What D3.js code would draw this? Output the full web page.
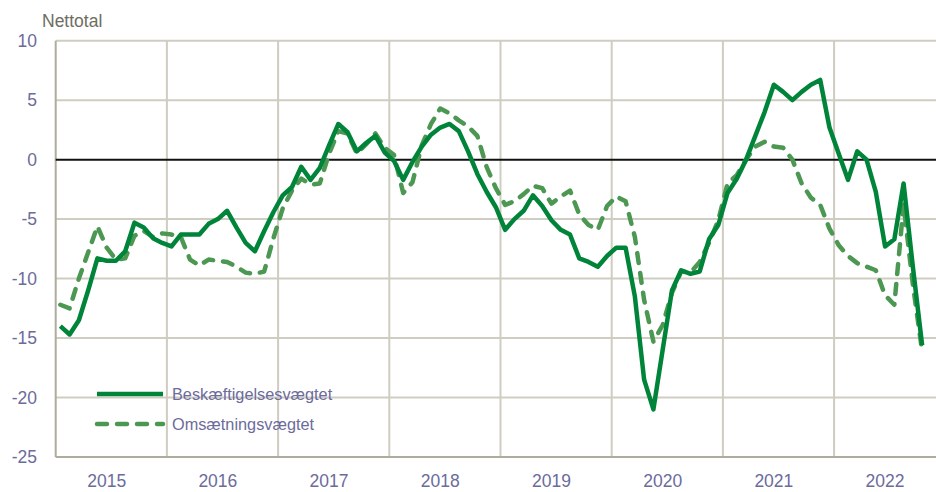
<!DOCTYPE html>
<html>
<head>
<meta charset="utf-8">
<script src="https://cdn.jsdelivr.net/npm/d3@7"></script>
<style>
  body { margin: 0; background: #fff; }
  svg { display: block; }
</style>
</head>
<body>
<script>
// monthly net balances, Jan 2015 .. Oct 2022
const years = ['2015', '2016', '2017', '2018', '2019', '2020', '2021', '2022'];
const yTicks = [10, 5, 0, -5, -10, -15, -20, -25];
const seriesNames = ['Beskæftigelsesvægtet', 'Omsætningsvægtet'];

const beskaeftigelse = [
  -14.0, -14.7, -13.5, -11.0, -8.3, -8.5, -8.5, -7.7, -5.3, -5.7, -6.6, -7.0,
  -7.3, -6.3, -6.3, -6.3, -5.4, -5.0, -4.3, -5.7, -7.0, -7.7, -6.0, -4.4,
  -3.0, -2.3, -0.6, -1.7, -0.7, 1.2, 3.0, 2.3, 0.7, 1.4, 2.0, 0.6,
  -0.1, -1.7, -0.2, 1.1, 2.1, 2.7, 3.0, 2.4, 0.7, -1.2, -2.7, -4.0,
  -5.9, -5.0, -4.3, -3.0, -3.9, -5.1, -5.9, -6.3, -8.3, -8.6, -9.0, -8.1,
  -7.4, -7.4, -11.5, -18.5, -21.0, -16.0, -11.0, -9.3, -9.6, -9.4, -6.7, -5.5,
  -2.8, -1.6, 0.0, 2.0, 4.0, 6.3, 5.7, 5.0, 5.7, 6.3, 6.7, 2.7,
  0.5, -1.7, 0.7, 0.0, -2.7, -7.3, -6.7, -2.0, -9.0, -15.6
];

const omsaetning = [
  -12.2, -12.5, -10.0, -7.8, -5.6, -7.4, -8.4, -8.3, -6.4, -6.0, -6.5, -6.2,
  -6.3, -6.5, -8.4, -8.9, -8.4, -8.5, -8.6, -9.0, -9.5, -9.6, -9.4, -6.6,
  -4.1, -2.6, -1.6, -2.1, -2.0, 0.5, 2.4, 2.2, 0.5, 1.3, 2.2, 1.0,
  0.4, -2.8, -1.9, 1.2, 3.0, 4.3, 3.9, 3.3, 2.8, 2.0, -0.6, -2.4,
  -3.8, -3.5, -2.9, -2.2, -2.4, -3.7, -3.1, -2.6, -4.6, -5.5, -5.9, -3.9,
  -3.1, -3.5, -6.5, -11.8, -15.3, -13.9, -11.2, -9.4, -9.5, -8.6, -7.0, -5.1,
  -2.0, -1.3, 0.0, 1.1, 1.5, 1.1, 1.0, 0.0, -2.0, -3.2, -3.8, -5.8,
  -7.2, -8.1, -8.7, -9.0, -9.3, -11.4, -12.2, -3.8, -10.5, -16.1
];

const W = 936, H = 492;
const FONT = '"Liberation Sans", Arial, sans-serif';
const gridColor = '#cfcdc1';
const axisColor = '#aeac9c';
const labelColor = '#6c6b9c';
const solidColor = '#00843a';
const dashColor = '#4c9853';

const svg = d3.select('body').append('svg')
  .attr('width', W)
  .attr('height', H);

// month index scale, 12 per year
const x = d3.scaleLinear().domain([0, 96]).range([55.7, 945.3]);
const y = d3.scaleLinear().domain([-25, 10]).range([457, 40.7]);

// horizontal grid
svg.append('g').selectAll('line')
  .data(yTicks.filter(d => d !== 0 && d !== -25))
  .join('line')
  .attr('x1', x(0)).attr('x2', W)
  .attr('y1', d => y(d)).attr('y2', d => y(d))
  .attr('stroke', gridColor)
  .attr('stroke-width', 2);

// vertical grid at year boundaries
svg.append('g').selectAll('line')
  .data(d3.range(1, years.length + 1))
  .join('line')
  .attr('x1', d => x(d * 12)).attr('x2', d => x(d * 12))
  .attr('y1', y(10)).attr('y2', y(-25))
  .attr('stroke', gridColor)
  .attr('stroke-width', 2);

// axes frame
svg.append('line')
  .attr('x1', x(0)).attr('x2', x(0))
  .attr('y1', y(10)).attr('y2', y(-25))
  .attr('stroke', axisColor).attr('stroke-width', 2);
svg.append('line')
  .attr('x1', x(0)).attr('x2', W)
  .attr('y1', y(-25)).attr('y2', y(-25))
  .attr('stroke', axisColor).attr('stroke-width', 2);

// zero line
svg.append('line')
  .attr('x1', x(0)).attr('x2', W)
  .attr('y1', y(0)).attr('y2', y(0))
  .attr('stroke', '#111').attr('stroke-width', 2);

// y tick labels
svg.append('g').selectAll('text')
  .data(yTicks)
  .join('text')
  .attr('x', 37)
  .attr('y', d => y(d))
  .attr('dy', '0.36em')
  .attr('text-anchor', 'end')
  .attr('font-family', FONT)
  .attr('font-size', 17.5)
  .attr('fill', labelColor)
  .text(d => d);

// x labels
svg.append('g').selectAll('text')
  .data(years)
  .join('text')
  .attr('x', (d, i) => x(i * 12 + 5.5))
  .attr('y', 487)
  .attr('text-anchor', 'middle')
  .attr('font-family', FONT)
  .attr('font-size', 17.5)
  .attr('fill', labelColor)
  .text(d => d);

// unit label
svg.append('text')
  .attr('x', 42)
  .attr('y', 27)
  .attr('font-family', FONT)
  .attr('font-size', 17.5)
  .attr('fill', '#6e6d60')
  .text('Nettotal');

const line = d3.line()
  .x((d, i) => x(i + 0.5))
  .y(d => y(d));

svg.append('path')
  .datum(omsaetning)
  .attr('d', line)
  .attr('fill', 'none')
  .attr('stroke', dashColor)
  .attr('stroke-width', 4.5)
  .attr('stroke-dasharray', '10,10')
  .attr('stroke-linecap', 'round')
  .attr('stroke-linejoin', 'round');

svg.append('path')
  .datum(beskaeftigelse)
  .attr('d', line)
  .attr('fill', 'none')
  .attr('stroke', solidColor)
  .attr('stroke-width', 4.5)
  .attr('stroke-linejoin', 'round');

// legend
const legend = svg.append('g');
const legendRows = [
  { name: seriesNames[0], color: solidColor, dash: null, y: 394 },
  { name: seriesNames[1], color: dashColor, dash: '10,10', y: 424 }
];
legendRows.forEach(r => {
  legend.append('line')
    .attr('x1', 97).attr('x2', 163)
    .attr('y1', r.y).attr('y2', r.y)
    .attr('stroke', r.color)
    .attr('stroke-width', 4.5)
    .attr('stroke-linecap', r.dash ? 'round' : 'butt')
    .attr('stroke-dasharray', r.dash);
  legend.append('text')
    .attr('x', 172)
    .attr('y', r.y)
    .attr('dy', '0.36em')
    .attr('font-family', FONT)
    .attr('font-size', 16.3)
    .attr('fill', labelColor)
    .text(r.name);
});
</script>
</body>
</html>
